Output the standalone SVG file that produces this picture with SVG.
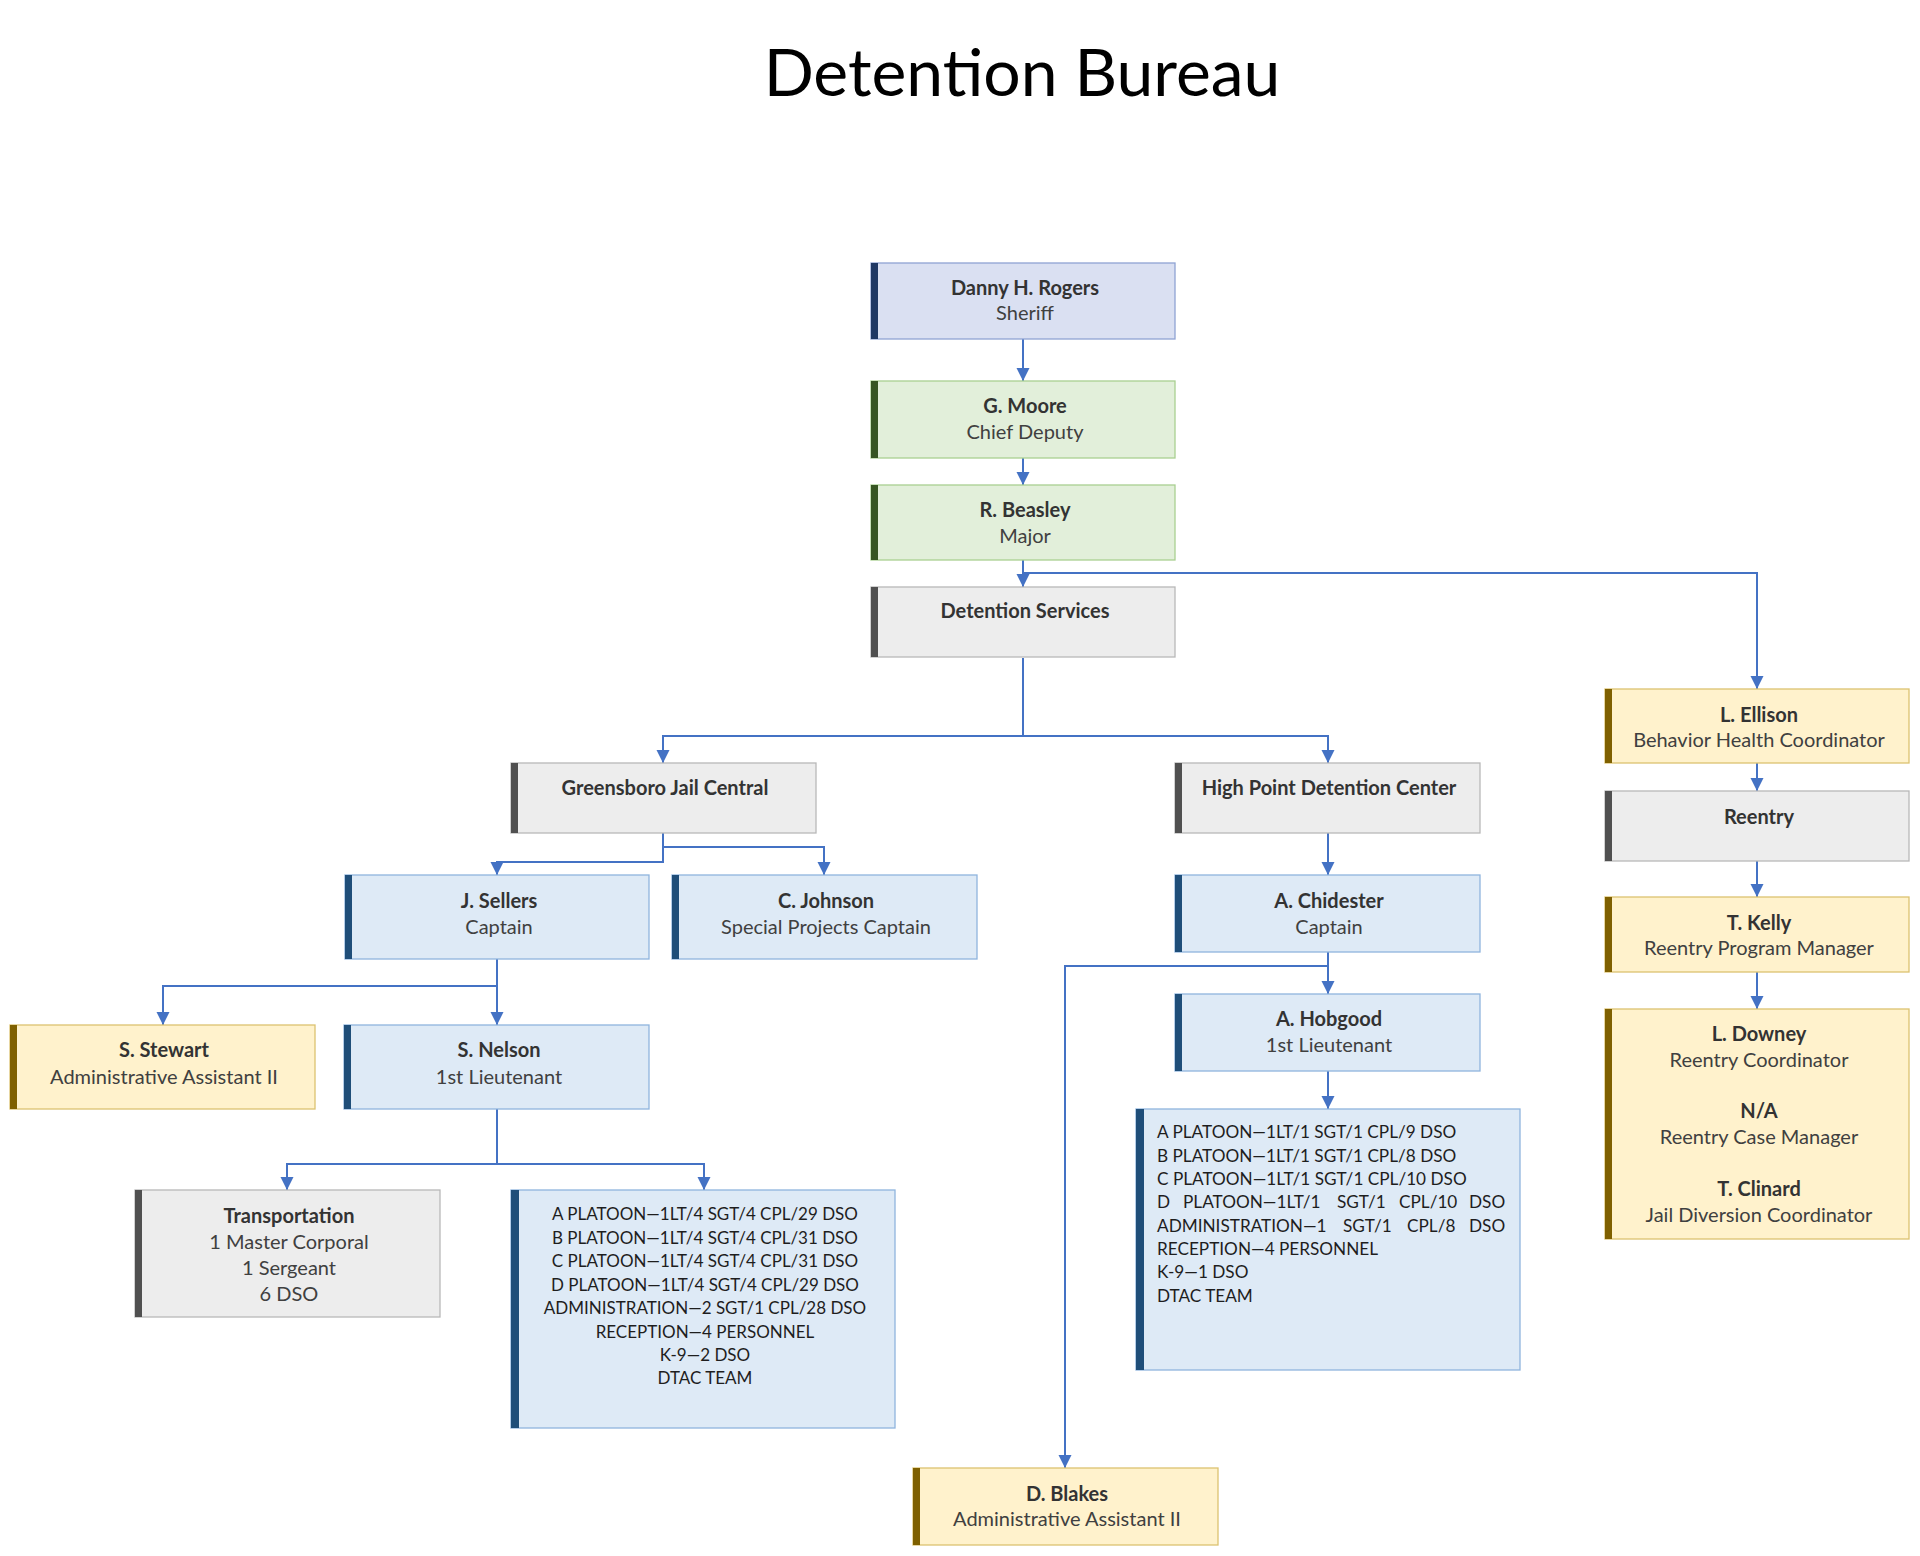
<svg xmlns="http://www.w3.org/2000/svg" width="1920" height="1556" viewBox="0 0 1920 1556">
<defs>
<marker id="arr" markerUnits="userSpaceOnUse" markerWidth="14" markerHeight="14" viewBox="0 0 14 14" refX="13" refY="7" orient="auto">
<path d="M0,0.5 L13,7 L0,13.5 Z" fill="#4472c4"/>
</marker>
</defs>
<style>
text{font-family:Lato,"Liberation Sans",sans-serif;}
.title{font-size:66px;fill:#000;text-anchor:middle;}
.nm{font-size:20px;font-weight:bold;fill:#333;text-anchor:middle;}
.rl{font-size:20px;fill:#404040;text-anchor:middle;}
.pl{font-size:17.2px;fill:#1e1e1e;}
.plc{font-size:17px;fill:#1e1e1e;text-anchor:middle;}
.bx{stroke-width:1.3;}
.lav{fill:#dae0f2;stroke:#8fa3d3;}
.lavb{fill:#1f3864;}
.grn{fill:#e2efda;stroke:#a9cf91;}
.grnb{fill:#375623;}
.gry{fill:#ededed;stroke:#b8b8b8;}
.gryb{fill:#505050;}
.blu{fill:#deeaf6;stroke:#8fb4de;}
.blub{fill:#1f4e79;}
.yel{fill:#fff2cc;stroke:#dcc270;}
.yelb{fill:#7f6000;}
.cn{fill:none;stroke:#4472c4;stroke-width:2;}
.ca{marker-end:url(#arr);}
</style>
<rect width="1920" height="1556" fill="#fff"/>
<text class="title" x="1022" y="96">Detention Bureau</text>

<g id="connectors">
<path class="cn ca" d="M1023,339 V381"/>
<path class="cn ca" d="M1023,458 V485"/>
<path class="cn ca" d="M1023,560 V587"/>
<path class="cn ca" d="M1023,573 H1757 V689"/>
<path class="cn" d="M1023,658 V736"/>
<path class="cn ca" d="M1023,736 H663 V763"/>
<path class="cn ca" d="M1023,736 H1328 V763"/>
<path class="cn ca" d="M663,833 V862 H497 V875"/>
<path class="cn ca" d="M663,847 H824 V875"/>
<path class="cn ca" d="M497,959 V1025"/>
<path class="cn ca" d="M497,986 H163 V1025"/>
<path class="cn ca" d="M497,1109 V1164 H287 V1190"/>
<path class="cn ca" d="M497,1164 H704 V1190"/>
<path class="cn ca" d="M1328,833 V875"/>
<path class="cn ca" d="M1328,952 V994"/>
<path class="cn ca" d="M1328,966 H1065 V1468"/>
<path class="cn ca" d="M1328,1071 V1109"/>
<path class="cn ca" d="M1757,763 V791"/>
<path class="cn ca" d="M1757,861 V897"/>
<path class="cn ca" d="M1757,972 V1009"/>
</g>

<g id="rogers">
<rect class="bx lav" x="871" y="263" width="304" height="76"/>
<rect class="lavb" x="871" y="263" width="7" height="76"/>
<text class="nm" x="1025" y="294.5">Danny H. Rogers</text>
<text class="rl" x="1025" y="319.5">Sheriff</text>
</g>
<g id="moore">
<rect class="bx grn" x="871" y="381" width="304" height="77"/>
<rect class="grnb" x="871" y="381" width="7" height="77"/>
<text class="nm" x="1025" y="412.5">G. Moore</text>
<text class="rl" x="1025" y="438.5">Chief Deputy</text>
</g>
<g id="beasley">
<rect class="bx grn" x="871" y="485" width="304" height="75"/>
<rect class="grnb" x="871" y="485" width="7" height="75"/>
<text class="nm" x="1025" y="516.5">R. Beasley</text>
<text class="rl" x="1025" y="542.5">Major</text>
</g>
<g id="detention-services">
<rect class="bx gry" x="871" y="587" width="304" height="70"/>
<rect class="gryb" x="871" y="587" width="7" height="70"/>
<text class="nm" x="1025" y="617.5">Detention Services</text>
</g>
<g id="greensboro">
<rect class="bx gry" x="511" y="763" width="305" height="70"/>
<rect class="gryb" x="511" y="763" width="7" height="70"/>
<text class="nm" x="665" y="794.5">Greensboro Jail Central</text>
</g>
<g id="highpoint">
<rect class="bx gry" x="1175" y="763" width="305" height="70"/>
<rect class="gryb" x="1175" y="763" width="7" height="70"/>
<text class="nm" x="1329" y="794.5">High Point Detention Center</text>
</g>
<g id="sellers">
<rect class="bx blu" x="345" y="875" width="304" height="84"/>
<rect class="blub" x="345" y="875" width="7" height="84"/>
<text class="nm" x="499" y="907.5">J. Sellers</text>
<text class="rl" x="499" y="933.5">Captain</text>
</g>
<g id="johnson">
<rect class="bx blu" x="672" y="875" width="305" height="84"/>
<rect class="blub" x="672" y="875" width="7" height="84"/>
<text class="nm" x="826" y="907.5">C. Johnson</text>
<text class="rl" x="826" y="933.5">Special Projects Captain</text>
</g>
<g id="stewart">
<rect class="bx yel" x="10" y="1025" width="305" height="84"/>
<rect class="yelb" x="10" y="1025" width="7" height="84"/>
<text class="nm" x="164" y="1056.5">S. Stewart</text>
<text class="rl" x="164" y="1083.5">Administrative Assistant II</text>
</g>
<g id="nelson">
<rect class="bx blu" x="344" y="1025" width="305" height="84"/>
<rect class="blub" x="344" y="1025" width="7" height="84"/>
<text class="nm" x="499" y="1056.5">S. Nelson</text>
<text class="rl" x="499" y="1083.5">1st Lieutenant</text>
</g>
<g id="transportation">
<rect class="bx gry" x="135" y="1190" width="305" height="127"/>
<rect class="gryb" x="135" y="1190" width="7" height="127"/>
<text class="nm" x="289" y="1222.5">Transportation</text>
<text class="rl" x="289" y="1248.5">1 Master Corporal</text>
<text class="rl" x="289" y="1274.5">1 Sergeant</text>
<text class="rl" x="289" y="1300.5">6 DSO</text>
</g>
<g id="gb-platoons">
<rect class="bx blu" x="511" y="1190" width="384" height="238"/>
<rect class="blub" x="511" y="1190" width="8" height="238"/>
<text class="plc" x="705" y="1220">A PLATOON—1LT/4 SGT/4 CPL/29 DSO</text>
<text class="plc" x="705" y="1244">B PLATOON—1LT/4 SGT/4 CPL/31 DSO</text>
<text class="plc" x="705" y="1267">C PLATOON—1LT/4 SGT/4 CPL/31 DSO</text>
<text class="plc" x="705" y="1291">D PLATOON—1LT/4 SGT/4 CPL/29 DSO</text>
<text class="plc" x="705" y="1314">ADMINISTRATION—2 SGT/1 CPL/28 DSO</text>
<text class="plc" x="705" y="1338">RECEPTION—4 PERSONNEL</text>
<text class="plc" x="705" y="1361">K-9—2 DSO</text>
<text class="plc" x="705" y="1384">DTAC TEAM</text>
</g>
<g id="chidester">
<rect class="bx blu" x="1175" y="875" width="305" height="77"/>
<rect class="blub" x="1175" y="875" width="7" height="77"/>
<text class="nm" x="1329" y="907.5">A. Chidester</text>
<text class="rl" x="1329" y="933.5">Captain</text>
</g>
<g id="hobgood">
<rect class="bx blu" x="1175" y="994" width="305" height="77"/>
<rect class="blub" x="1175" y="994" width="7" height="77"/>
<text class="nm" x="1329" y="1025.5">A. Hobgood</text>
<text class="rl" x="1329" y="1051.5">1st Lieutenant</text>
</g>
<g id="hp-platoons">
<rect class="bx blu" x="1136" y="1109" width="384" height="261"/>
<rect class="blub" x="1136" y="1109" width="8" height="261"/>
<text class="pl" x="1157" y="1138">A PLATOON—1LT/1 SGT/1 CPL/9 DSO</text>
<text class="pl" x="1157" y="1162">B PLATOON—1LT/1 SGT/1 CPL/8 DSO</text>
<text class="pl" x="1157" y="1185">C PLATOON—1LT/1 SGT/1 CPL/10 DSO</text>
<text class="pl" y="1208"><tspan x="1157">D</tspan><tspan x="1183">PLATOON—1LT/1</tspan><tspan x="1337">SGT/1</tspan><tspan x="1399">CPL/10</tspan><tspan x="1469">DSO</tspan></text>
<text class="pl" y="1232"><tspan x="1157">ADMINISTRATION—1</tspan><tspan x="1343">SGT/1</tspan><tspan x="1407">CPL/8</tspan><tspan x="1469">DSO</tspan></text>
<text class="pl" x="1157" y="1255">RECEPTION—4 PERSONNEL</text>
<text class="pl" x="1157" y="1278">K-9—1 DSO</text>
<text class="pl" x="1157" y="1302">DTAC TEAM</text>
</g>
<g id="blakes">
<rect class="bx yel" x="913" y="1468" width="305" height="77"/>
<rect class="yelb" x="913" y="1468" width="7" height="77"/>
<text class="nm" x="1067" y="1500.5">D. Blakes</text>
<text class="rl" x="1067" y="1525.5">Administrative Assistant II</text>
</g>
<g id="ellison">
<rect class="bx yel" x="1605" y="689" width="304" height="74"/>
<rect class="yelb" x="1605" y="689" width="7" height="74"/>
<text class="nm" x="1759" y="721.5">L. Ellison</text>
<text class="rl" x="1759" y="746.5">Behavior Health Coordinator</text>
</g>
<g id="reentry">
<rect class="bx gry" x="1605" y="791" width="304" height="70"/>
<rect class="gryb" x="1605" y="791" width="7" height="70"/>
<text class="nm" x="1759" y="823.5">Reentry</text>
</g>
<g id="kelly">
<rect class="bx yel" x="1605" y="897" width="304" height="75"/>
<rect class="yelb" x="1605" y="897" width="7" height="75"/>
<text class="nm" x="1759" y="929.5">T. Kelly</text>
<text class="rl" x="1759" y="954.5">Reentry Program Manager</text>
</g>
<g id="downey">
<rect class="bx yel" x="1605" y="1009" width="304" height="230"/>
<rect class="yelb" x="1605" y="1009" width="7" height="230"/>
<text class="nm" x="1759" y="1040.5">L. Downey</text>
<text class="rl" x="1759" y="1066.5">Reentry Coordinator</text>
<text class="nm" x="1759" y="1117.5">N/A</text>
<text class="rl" x="1759" y="1143.5">Reentry Case Manager</text>
<text class="nm" x="1759" y="1195.5">T. Clinard</text>
<text class="rl" x="1759" y="1221.5">Jail Diversion Coordinator</text>
</g>
</svg>
